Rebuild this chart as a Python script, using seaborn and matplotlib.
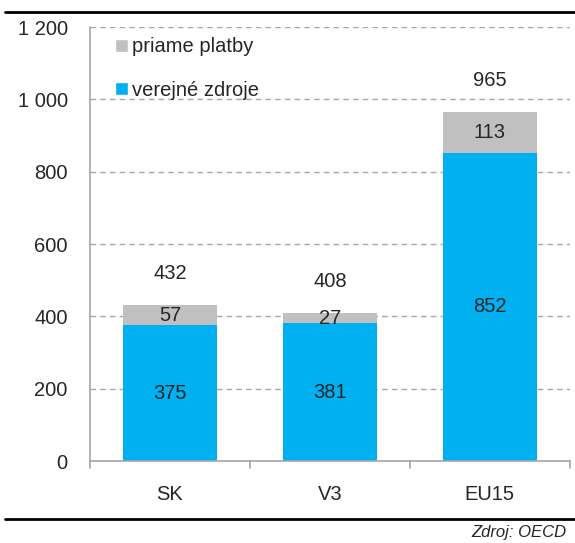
import matplotlib.pyplot as plt
import pandas as pd
import seaborn as sns
from matplotlib.lines import Line2D
from matplotlib.patches import Patch

krajiny = ["SK", "V3", "EU15"]
verejne = [375, 381, 852]
priame = [57, 27, 113]
spolu = [v + p for v, p in zip(verejne, priame)]
y_ticks = [0, 200, 400, 600, 800, 1000, 1200]
y_labels = ["0", "200", "400", "600", "800", "1 000", "1 200"]

df = pd.DataFrame({"krajina": krajiny, "verejne": verejne, "priame": priame, "spolu": spolu})

sns.set_style("white")
plt.rcParams["font.family"] = ["Liberation Sans", "DejaVu Sans"]

modra = "#00b0f0"
seda = "#c0c0c0"

fig = plt.figure(figsize=(5.75, 5.43), dpi=100)
ax = fig.add_axes([0.1565, 0.151, 0.8345, 0.799])

sns.barplot(data=df, x="krajina", y="spolu", color=seda, width=0.59,
            saturation=1, ax=ax, edgecolor="none")
sns.barplot(data=df, x="krajina", y="verejne", color=modra, width=0.59,
            saturation=1, ax=ax, edgecolor="none")

fs = 14.5
for i in range(len(krajiny)):
    ax.text(i, verejne[i] / 2, str(verejne[i]), ha="center", va="center", fontsize=fs)
    ax.text(i, verejne[i] + priame[i] / 2, str(priame[i]), ha="center", va="center", fontsize=fs)
    ax.text(i, spolu[i] + 88, str(spolu[i]), ha="center", va="center", fontsize=fs)

ax.set_xlim(-0.5, 2.5)
ax.set_ylim(0, 1200)
ax.set_yticks(y_ticks)
ax.set_yticklabels(y_labels, fontsize=fs)
ax.set_xticks(range(len(krajiny)))
ax.set_xticklabels(krajiny, fontsize=fs)
ax.set_xlabel("")
ax.set_ylabel("")
for y in y_ticks[1:]:
    ax.axhline(y, color="#a6a6a6", linestyle=(0, (4, 3)), linewidth=1, zorder=0)

for s in ["top", "right"]:
    ax.spines[s].set_visible(False)
ax.spines["left"].set_color("#a6a6a6")
ax.spines["bottom"].set_color("#a6a6a6")
ax.spines["left"].set_linewidth(1.2)
ax.spines["bottom"].set_linewidth(1.2)
ax.tick_params(axis="y", length=0, pad=16)
ax.tick_params(axis="x", length=0, pad=17)
for xb in [-0.5, 0.5, 1.5, 2.5]:
    ax.plot([xb, xb], [0, -18], color="#a6a6a6", linewidth=1.2, clip_on=False)

handles = [Patch(facecolor=seda, label="priame platby"),
           Patch(facecolor=modra, label="verejné zdroje")]
ax.legend(handles=handles, loc="upper left", bbox_to_anchor=(0.035, 0.995),
          frameon=False, fontsize=fs, handlelength=0.65, handleheight=0.65,
          handletextpad=0.2, labelspacing=1.2, borderaxespad=0.0)

fig.add_artist(Line2D([5 / 575, 1], [0.978, 0.978], color="black", linewidth=2))
fig.add_artist(Line2D([5 / 575, 1], [0.044, 0.044], color="black", linewidth=2))
fig.text(0.985, 0.02, "Zdroj: OECD", ha="right", va="center", fontsize=12, style="italic")

fig.savefig("out.png", dpi=100)
